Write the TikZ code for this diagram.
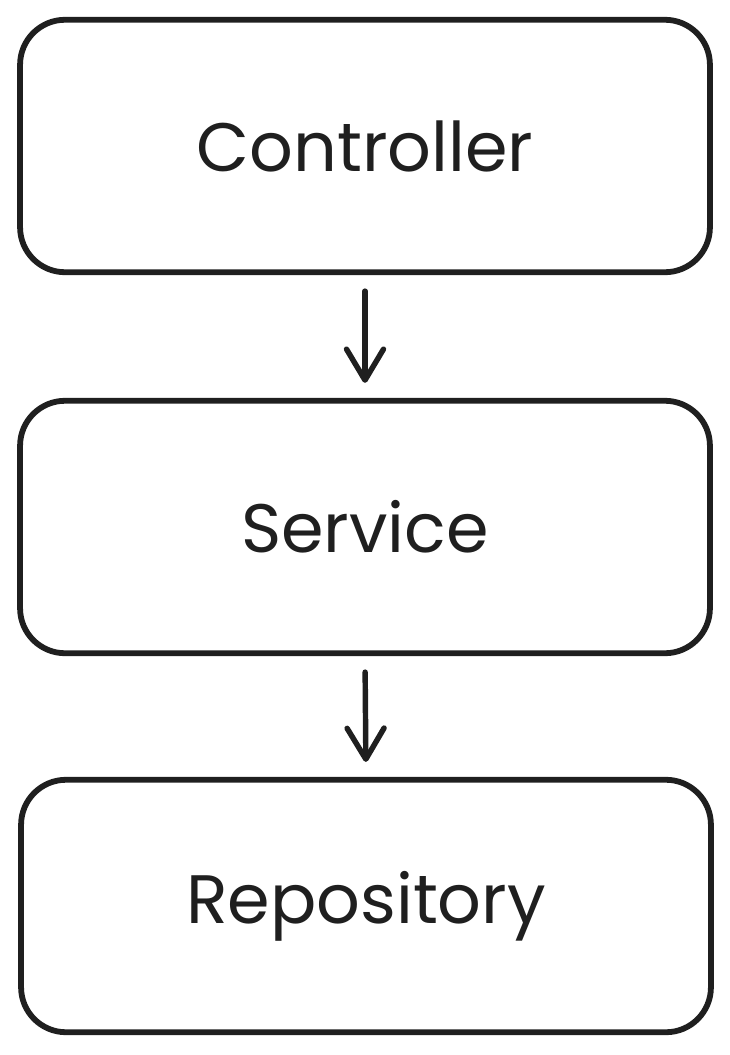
\documentclass[tikz,border=0pt]{standalone}
\usepackage{fontspec}
\setmainfont{Poppins}
\usepackage{tikz}
\usetikzlibrary{positioning,arrows.meta}
\tikzset{
  layer/.style  = {draw=black!88, line width=3.3pt, rounded corners=0.9cm,
                   minimum width=13.8cm, minimum height=5.05cm, fill=white,
                   font=\fontsize{39}{44}\selectfont, text=black!88},
  flow/.style   = {draw=black!88, line width=3.1pt, line cap=round,
                   -{Straight Barb[length=0.62cm, width=0.74cm, line join=round, line cap=round]},
                   shorten <=0.32cm, shorten >=0.3cm},
}

\begin{document}
\begin{tikzpicture}[x=0.02cm, y=-0.02cm]
  \useasboundingbox (0,0) rectangle (730,1055);
  \node[layer] (ctl) at (365,146) {Controller};
  \node[layer] (svc) at (365,527) {Service};
  \node[layer] (repo) at (366,906) {Repository};
  \draw[flow] (ctl.south) -- (svc.north);
  \draw[flow] (svc.south) -- (repo.north);
\end{tikzpicture}
\end{document}
